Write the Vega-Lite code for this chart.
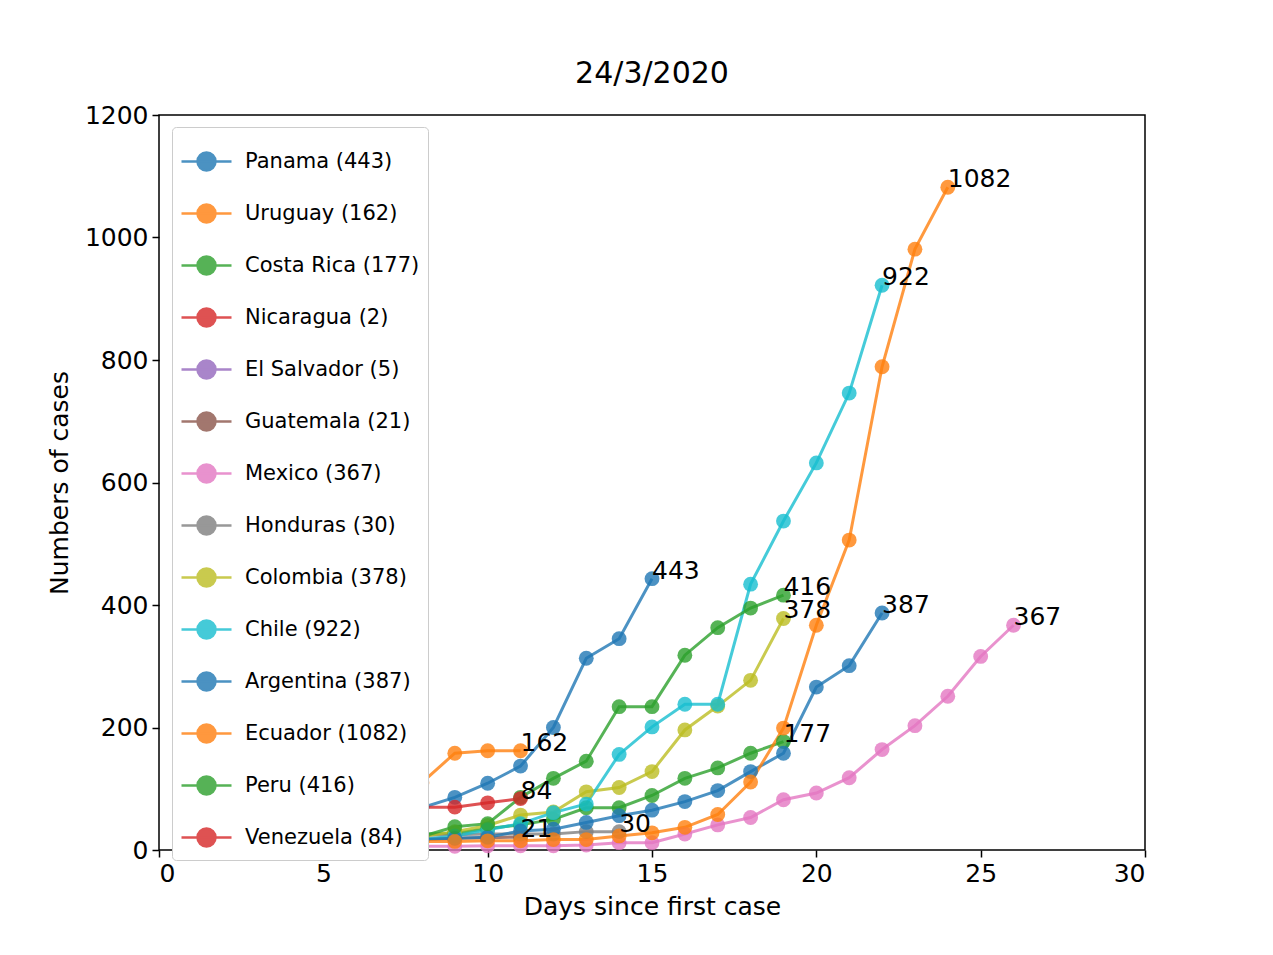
{
  "$schema": "https://vega.github.io/schema/vega-lite/v6.json",
  "width": 986,
  "height": 735,
  "autosize": "none",
  "padding": {"left": 159, "top": 115, "right": 128, "bottom": 105},
  "background": "white",
  "title": {"text": "24/3/2020", "fontSize": 30, "font": "DejaVu Sans", "fontWeight": "normal", "offset": 14, "color": "black"},
  "config": {
    "font": "DejaVu Sans",
    "view": {"stroke": "black", "strokeWidth": 1.5},
    "axis": {"grid": false, "domain": false, "tickColor": "black", "tickSize": 7, "tickWidth": 1.5, "labelFontSize": 25, "titleFontSize": 25, "titleFontWeight": "normal", "labelColor": "black", "titleColor": "black", "labelPadding": 4, "format": "d"}
  },
  "datasets": {
    "labels": [
      {"country":"Panama (443)","day":15,"cases":443},
      {"country":"Uruguay (162)","day":11,"cases":162},
      {"country":"Costa Rica (177)","day":19,"cases":177},
      {"country":"Nicaragua (2)","day":6,"cases":2},
      {"country":"El Salvador (5)","day":6,"cases":5},
      {"country":"Guatemala (21)","day":11,"cases":21},
      {"country":"Mexico (367)","day":26,"cases":367},
      {"country":"Honduras (30)","day":14,"cases":30},
      {"country":"Colombia (378)","day":19,"cases":378},
      {"country":"Chile (922)","day":22,"cases":922},
      {"country":"Argentina (387)","day":22,"cases":387},
      {"country":"Ecuador (1082)","day":24,"cases":1082},
      {"country":"Peru (416)","day":19,"cases":416},
      {"country":"Venezuela (84)","day":11,"cases":84}
    ]
  },
  "data": {"values": [
    {"c":"Panama (443)","d":1,"v":1},{"c":"Panama (443)","d":2,"v":1},{"c":"Panama (443)","d":3,"v":8},{"c":"Panama (443)","d":4,"v":11},{"c":"Panama (443)","d":5,"v":27},{"c":"Panama (443)","d":6,"v":36},{"c":"Panama (443)","d":7,"v":55},{"c":"Panama (443)","d":8,"v":69},{"c":"Panama (443)","d":9,"v":86},{"c":"Panama (443)","d":10,"v":109},{"c":"Panama (443)","d":11,"v":137},{"c":"Panama (443)","d":12,"v":200},{"c":"Panama (443)","d":13,"v":313},{"c":"Panama (443)","d":14,"v":345},{"c":"Panama (443)","d":15,"v":443},
    {"c":"Uruguay (162)","d":1,"v":4},{"c":"Uruguay (162)","d":2,"v":6},{"c":"Uruguay (162)","d":3,"v":10},{"c":"Uruguay (162)","d":4,"v":29},{"c":"Uruguay (162)","d":5,"v":50},{"c":"Uruguay (162)","d":6,"v":79},{"c":"Uruguay (162)","d":7,"v":94},{"c":"Uruguay (162)","d":8,"v":110},{"c":"Uruguay (162)","d":9,"v":158},{"c":"Uruguay (162)","d":10,"v":162},{"c":"Uruguay (162)","d":11,"v":162},
    {"c":"Costa Rica (177)","d":1,"v":1},{"c":"Costa Rica (177)","d":2,"v":1},{"c":"Costa Rica (177)","d":3,"v":5},{"c":"Costa Rica (177)","d":4,"v":9},{"c":"Costa Rica (177)","d":5,"v":13},{"c":"Costa Rica (177)","d":6,"v":22},{"c":"Costa Rica (177)","d":7,"v":23},{"c":"Costa Rica (177)","d":8,"v":26},{"c":"Costa Rica (177)","d":9,"v":27},{"c":"Costa Rica (177)","d":10,"v":35},{"c":"Costa Rica (177)","d":11,"v":41},{"c":"Costa Rica (177)","d":12,"v":50},{"c":"Costa Rica (177)","d":13,"v":69},{"c":"Costa Rica (177)","d":14,"v":69},{"c":"Costa Rica (177)","d":15,"v":89},{"c":"Costa Rica (177)","d":16,"v":117},{"c":"Costa Rica (177)","d":17,"v":134},{"c":"Costa Rica (177)","d":18,"v":158},{"c":"Costa Rica (177)","d":19,"v":177},
    {"c":"Nicaragua (2)","d":1,"v":1},{"c":"Nicaragua (2)","d":2,"v":1},{"c":"Nicaragua (2)","d":3,"v":1},{"c":"Nicaragua (2)","d":4,"v":2},{"c":"Nicaragua (2)","d":5,"v":2},{"c":"Nicaragua (2)","d":6,"v":2},
    {"c":"El Salvador (5)","d":1,"v":1},{"c":"El Salvador (5)","d":2,"v":1},{"c":"El Salvador (5)","d":3,"v":3},{"c":"El Salvador (5)","d":4,"v":3},{"c":"El Salvador (5)","d":5,"v":5},{"c":"El Salvador (5)","d":6,"v":5},
    {"c":"Guatemala (21)","d":1,"v":1},{"c":"Guatemala (21)","d":2,"v":1},{"c":"Guatemala (21)","d":3,"v":2},{"c":"Guatemala (21)","d":4,"v":6},{"c":"Guatemala (21)","d":5,"v":6},{"c":"Guatemala (21)","d":6,"v":9},{"c":"Guatemala (21)","d":7,"v":12},{"c":"Guatemala (21)","d":8,"v":17},{"c":"Guatemala (21)","d":9,"v":19},{"c":"Guatemala (21)","d":10,"v":20},{"c":"Guatemala (21)","d":11,"v":21},
    {"c":"Mexico (367)","d":1,"v":1},{"c":"Mexico (367)","d":2,"v":4},{"c":"Mexico (367)","d":3,"v":5},{"c":"Mexico (367)","d":4,"v":5},{"c":"Mexico (367)","d":5,"v":5},{"c":"Mexico (367)","d":6,"v":5},{"c":"Mexico (367)","d":7,"v":5},{"c":"Mexico (367)","d":8,"v":6},{"c":"Mexico (367)","d":9,"v":6},{"c":"Mexico (367)","d":10,"v":7},{"c":"Mexico (367)","d":11,"v":7},{"c":"Mexico (367)","d":12,"v":7},{"c":"Mexico (367)","d":13,"v":8},{"c":"Mexico (367)","d":14,"v":12},{"c":"Mexico (367)","d":15,"v":12},{"c":"Mexico (367)","d":16,"v":26},{"c":"Mexico (367)","d":17,"v":41},{"c":"Mexico (367)","d":18,"v":53},{"c":"Mexico (367)","d":19,"v":82},{"c":"Mexico (367)","d":20,"v":93},{"c":"Mexico (367)","d":21,"v":118},{"c":"Mexico (367)","d":22,"v":164},{"c":"Mexico (367)","d":23,"v":203},{"c":"Mexico (367)","d":24,"v":251},{"c":"Mexico (367)","d":25,"v":316},{"c":"Mexico (367)","d":26,"v":367},
    {"c":"Honduras (30)","d":1,"v":2},{"c":"Honduras (30)","d":2,"v":2},{"c":"Honduras (30)","d":3,"v":3},{"c":"Honduras (30)","d":4,"v":6},{"c":"Honduras (30)","d":5,"v":8},{"c":"Honduras (30)","d":6,"v":9},{"c":"Honduras (30)","d":7,"v":12},{"c":"Honduras (30)","d":8,"v":24},{"c":"Honduras (30)","d":9,"v":25},{"c":"Honduras (30)","d":10,"v":26},{"c":"Honduras (30)","d":11,"v":26},{"c":"Honduras (30)","d":12,"v":26},{"c":"Honduras (30)","d":13,"v":30},{"c":"Honduras (30)","d":14,"v":30},
    {"c":"Colombia (378)","d":1,"v":1},{"c":"Colombia (378)","d":2,"v":1},{"c":"Colombia (378)","d":3,"v":3},{"c":"Colombia (378)","d":4,"v":3},{"c":"Colombia (378)","d":5,"v":9},{"c":"Colombia (378)","d":6,"v":9},{"c":"Colombia (378)","d":7,"v":13},{"c":"Colombia (378)","d":8,"v":22},{"c":"Colombia (378)","d":9,"v":30},{"c":"Colombia (378)","d":10,"v":40},{"c":"Colombia (378)","d":11,"v":57},{"c":"Colombia (378)","d":12,"v":62},{"c":"Colombia (378)","d":13,"v":95},{"c":"Colombia (378)","d":14,"v":102},{"c":"Colombia (378)","d":15,"v":128},{"c":"Colombia (378)","d":16,"v":196},{"c":"Colombia (378)","d":17,"v":235},{"c":"Colombia (378)","d":18,"v":277},{"c":"Colombia (378)","d":19,"v":378},
    {"c":"Chile (922)","d":1,"v":1},{"c":"Chile (922)","d":2,"v":4},{"c":"Chile (922)","d":3,"v":4},{"c":"Chile (922)","d":4,"v":4},{"c":"Chile (922)","d":5,"v":8},{"c":"Chile (922)","d":6,"v":8},{"c":"Chile (922)","d":7,"v":13},{"c":"Chile (922)","d":8,"v":17},{"c":"Chile (922)","d":9,"v":23},{"c":"Chile (922)","d":10,"v":33},{"c":"Chile (922)","d":11,"v":43},{"c":"Chile (922)","d":12,"v":61},{"c":"Chile (922)","d":13,"v":75},{"c":"Chile (922)","d":14,"v":156},{"c":"Chile (922)","d":15,"v":201},{"c":"Chile (922)","d":16,"v":238},{"c":"Chile (922)","d":17,"v":238},{"c":"Chile (922)","d":18,"v":434},{"c":"Chile (922)","d":19,"v":537},{"c":"Chile (922)","d":20,"v":632},{"c":"Chile (922)","d":21,"v":746},{"c":"Chile (922)","d":22,"v":922},
    {"c":"Argentina (387)","d":1,"v":1},{"c":"Argentina (387)","d":2,"v":1},{"c":"Argentina (387)","d":3,"v":2},{"c":"Argentina (387)","d":4,"v":8},{"c":"Argentina (387)","d":5,"v":9},{"c":"Argentina (387)","d":6,"v":12},{"c":"Argentina (387)","d":7,"v":12},{"c":"Argentina (387)","d":8,"v":17},{"c":"Argentina (387)","d":9,"v":19},{"c":"Argentina (387)","d":10,"v":21},{"c":"Argentina (387)","d":11,"v":31},{"c":"Argentina (387)","d":12,"v":34},{"c":"Argentina (387)","d":13,"v":45},{"c":"Argentina (387)","d":14,"v":56},{"c":"Argentina (387)","d":15,"v":65},{"c":"Argentina (387)","d":16,"v":79},{"c":"Argentina (387)","d":17,"v":97},{"c":"Argentina (387)","d":18,"v":128},{"c":"Argentina (387)","d":19,"v":158},{"c":"Argentina (387)","d":20,"v":266},{"c":"Argentina (387)","d":21,"v":301},{"c":"Argentina (387)","d":22,"v":387},
    {"c":"Ecuador (1082)","d":1,"v":1},{"c":"Ecuador (1082)","d":2,"v":6},{"c":"Ecuador (1082)","d":3,"v":7},{"c":"Ecuador (1082)","d":4,"v":10},{"c":"Ecuador (1082)","d":5,"v":13},{"c":"Ecuador (1082)","d":6,"v":13},{"c":"Ecuador (1082)","d":7,"v":13},{"c":"Ecuador (1082)","d":8,"v":14},{"c":"Ecuador (1082)","d":9,"v":14},{"c":"Ecuador (1082)","d":10,"v":15},{"c":"Ecuador (1082)","d":11,"v":15},{"c":"Ecuador (1082)","d":12,"v":17},{"c":"Ecuador (1082)","d":13,"v":17},{"c":"Ecuador (1082)","d":14,"v":23},{"c":"Ecuador (1082)","d":15,"v":28},{"c":"Ecuador (1082)","d":16,"v":37},{"c":"Ecuador (1082)","d":17,"v":58},{"c":"Ecuador (1082)","d":18,"v":111},{"c":"Ecuador (1082)","d":19,"v":199},{"c":"Ecuador (1082)","d":20,"v":367},{"c":"Ecuador (1082)","d":21,"v":506},{"c":"Ecuador (1082)","d":22,"v":789},{"c":"Ecuador (1082)","d":23,"v":981},{"c":"Ecuador (1082)","d":24,"v":1082},
    {"c":"Peru (416)","d":1,"v":1},{"c":"Peru (416)","d":2,"v":1},{"c":"Peru (416)","d":3,"v":1},{"c":"Peru (416)","d":4,"v":6},{"c":"Peru (416)","d":5,"v":7},{"c":"Peru (416)","d":6,"v":9},{"c":"Peru (416)","d":7,"v":11},{"c":"Peru (416)","d":8,"v":22},{"c":"Peru (416)","d":9,"v":38},{"c":"Peru (416)","d":10,"v":43},{"c":"Peru (416)","d":11,"v":86},{"c":"Peru (416)","d":12,"v":117},{"c":"Peru (416)","d":13,"v":145},{"c":"Peru (416)","d":14,"v":234},{"c":"Peru (416)","d":15,"v":234},{"c":"Peru (416)","d":16,"v":318},{"c":"Peru (416)","d":17,"v":363},{"c":"Peru (416)","d":18,"v":395},{"c":"Peru (416)","d":19,"v":416},
    {"c":"Venezuela (84)","d":1,"v":2},{"c":"Venezuela (84)","d":2,"v":10},{"c":"Venezuela (84)","d":3,"v":17},{"c":"Venezuela (84)","d":4,"v":33},{"c":"Venezuela (84)","d":5,"v":36},{"c":"Venezuela (84)","d":6,"v":42},{"c":"Venezuela (84)","d":7,"v":44},{"c":"Venezuela (84)","d":8,"v":70},{"c":"Venezuela (84)","d":9,"v":70},{"c":"Venezuela (84)","d":10,"v":77},{"c":"Venezuela (84)","d":11,"v":84}
  ]},
  "layer": [
    {
      "mark": {"type": "line", "strokeWidth": 3, "opacity": 0.8, "point": {"filled": true, "size": 220, "opacity": 0.8}},
      "encoding": {
        "x": {"field": "d", "type": "quantitative", "scale": {"domain": [0, 30], "nice": false}, "axis": {"values": [0,5,10,15,20,25,30], "title": "Days since first case", "titlePadding": 8}},
        "y": {"field": "v", "type": "quantitative", "scale": {"domain": [0, 1200], "nice": false}, "axis": {"values": [0,200,400,600,800,1000,1200], "title": "Numbers of cases", "titlePadding": 12}},
        "color": {
          "field": "c", "type": "nominal",
          "scale": {
            "domain": ["Panama (443)","Uruguay (162)","Costa Rica (177)","Nicaragua (2)","El Salvador (5)","Guatemala (21)","Mexico (367)","Honduras (30)","Colombia (378)","Chile (922)","Argentina (387)","Ecuador (1082)","Peru (416)","Venezuela (84)"],
            "range": ["#1f77b4","#ff7f0e","#2ca02c","#d62728","#9467bd","#8c564b","#e377c2","#7f7f7f","#bcbd22","#17becf","#1f77b4","#ff7f0e","#2ca02c","#d62728"]
          },
          "legend": {
            "title": null, "orient": "none", "legendX": 13, "legendY": 12,
            "labelFontSize": 21, "labelColor": "black", "rowPadding": 11,
            "symbolType": "M-1,0L1,0M-0.36,0A0.36,0.36,0,1,1,0.36,0A0.36,0.36,0,1,1,-0.36,0Z",
            "symbolSize": 2500, "symbolStrokeWidth": 2.5, "symbolOpacity": 0.8,
            "strokeColor": "#cccccc", "fillColor": "white", "cornerRadius": 4, "padding": 8,
            "labelOffset": 12, "labelLimit": 400
          }
        },
        "order": {"field": "d"}
      }
    },
    {
      "data": {"name": "labels"},
      "mark": {"type": "text", "align": "left", "baseline": "alphabetic", "fontSize": 25, "color": "black"},
      "encoding": {
        "x": {"field": "day", "type": "quantitative"},
        "y": {"field": "cases", "type": "quantitative"},
        "text": {"field": "cases", "type": "quantitative"}
      }
    }
  ]
}
